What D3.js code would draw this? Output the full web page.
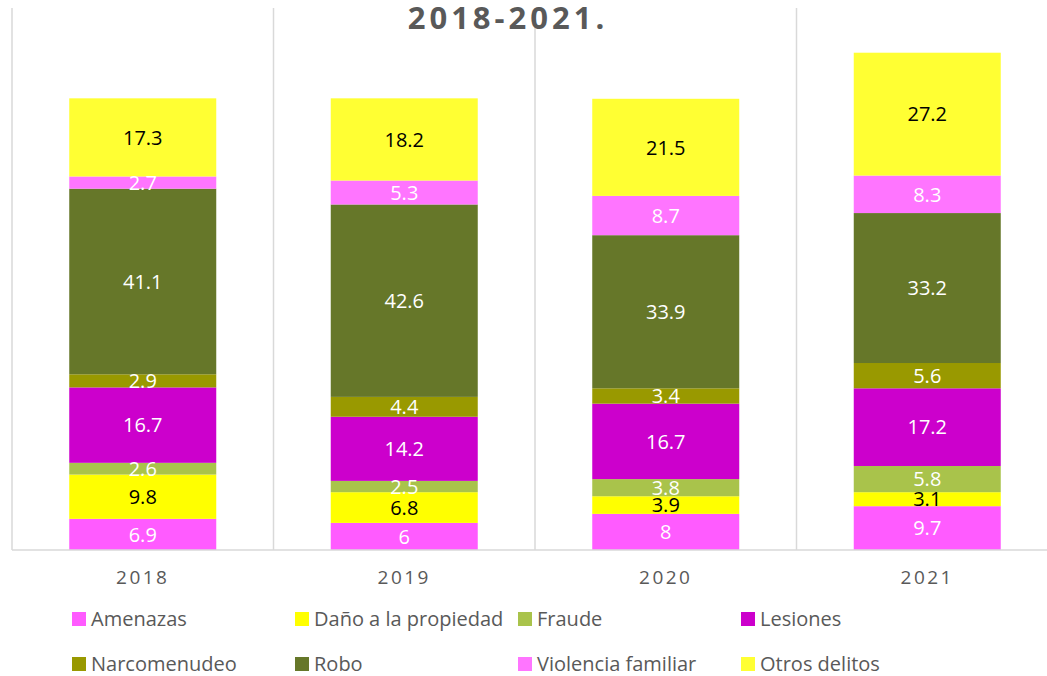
<!DOCTYPE html>
<html>
<head>
<meta charset="utf-8">
<script src="https://cdn.jsdelivr.net/npm/d3@7"></script>
<style>
  body { margin: 0; background: #fff; }
  svg { display: block; }
</style>
</head>
<body>
<svg id="chart"></svg>
<script>
// Datos
const years = ["2018", "2019", "2020", "2021"];
const seriesNames = ["Amenazas", "Daño a la propiedad", "Fraude", "Lesiones",
  "Narcomenudeo", "Robo", "Violencia familiar", "Otros delitos"];
const amenazas = [6.9, 6, 8, 9.7];
const danoPropiedad = [9.8, 6.8, 3.9, 3.1];
const fraude = [2.6, 2.5, 3.8, 5.8];
const lesiones = [16.7, 14.2, 16.7, 17.2];
const narcomenudeo = [2.9, 4.4, 3.4, 5.6];
const robo = [41.1, 42.6, 33.9, 33.2];
const violenciaFamiliar = [2.7, 5.3, 8.7, 8.3];
const otrosDelitos = [17.3, 18.2, 21.5, 27.2];
const seriesValues = [amenazas, danoPropiedad, fraude, lesiones,
  narcomenudeo, robo, violenciaFamiliar, otrosDelitos];

const colors = ["#FF5BFF", "#FFFF00", "#A9C34B", "#CC00CC",
  "#999900", "#667729", "#FF75FF", "#FFFF33"];
const labelColors = ["#fff", "#000", "#fff", "#fff", "#fff", "#fff", "#fff", "#000"];

const width = 1047, height = 676;
const margin = { top: 8, right: -11, bottom: 126, left: 12 };
const innerWidth = width - margin.left - margin.right;
const innerHeight = height - margin.top - margin.bottom;

const svg = d3.select("#chart").attr("width", width).attr("height", height);
const g = svg.append("g").attr("transform", `translate(${margin.left},${margin.top})`);

// tabla para d3.stack
const table = years.map((y, i) => {
  const row = { year: y };
  seriesNames.forEach((s, k) => row[s] = seriesValues[k][i]);
  return row;
});
const stacked = d3.stack().keys(seriesNames)(table);

const x = d3.scaleBand().domain(years).range([0, innerWidth]).paddingInner(0).paddingOuter(0);
const barW = 147;
const y = d3.scaleLinear().domain([0, 120]).range([innerHeight, 0]);

// lineas verticales entre categorias
g.selectAll("line.grid")
  .data(years.slice(1).concat(["end"]))
  .enter().append("line")
  .attr("class", "grid")
  .attr("x1", (d, i) => x.step() * (i + 1))
  .attr("x2", (d, i) => x.step() * (i + 1))
  .attr("y1", 0).attr("y2", innerHeight)
  .attr("stroke", "#D9D9D9").attr("stroke-width", 1.5);
g.append("line")
  .attr("x1", 0).attr("x2", 0).attr("y1", 0).attr("y2", innerHeight)
  .attr("stroke", "#D9D9D9").attr("stroke-width", 1.5);

// titulo (detras de las lineas no importa, va encima)
svg.append("text")
  .attr("x", 508).attr("y", 29)
  .attr("text-anchor", "middle")
  .attr("fill", "#595959")
  .style("font-family", "'Open Sans', sans-serif")
  .style("font-weight", "bold")
  .style("font-size", "31px")
  .style("letter-spacing", "4px")
  .text("2018-2021.");

// barras
const layers = g.selectAll("g.layer")
  .data(stacked)
  .enter().append("g")
  .attr("class", "layer")
  .attr("fill", (d, i) => colors[i]);

layers.selectAll("rect")
  .data(d => d)
  .enter().append("rect")
  .attr("x", d => x(d.data.year) + (x.bandwidth() - barW) / 2)
  .attr("width", barW)
  .attr("y", d => y(d[1]))
  .attr("height", d => y(d[0]) - y(d[1]));

// etiquetas
stacked.forEach((layer, k) => {
  g.selectAll(null)
    .data(layer)
    .enter().append("text")
    .attr("x", d => x(d.data.year) + x.bandwidth() / 2)
    .attr("y", d => (y(d[0]) + y(d[1])) / 2)
    .attr("dy", "0.36em")
    .attr("text-anchor", "middle")
    .attr("fill", labelColors[k])
    .style("font-family", "'Open Sans', sans-serif")
    .style("font-size", "20px")
    .text(d => d.data[layer.key]);
});

// eje x
g.append("line")
  .attr("x1", 0).attr("x2", innerWidth)
  .attr("y1", innerHeight).attr("y2", innerHeight)
  .attr("stroke", "#D9D9D9").attr("stroke-width", 1.5);

const xAxis = g.append("g")
  .attr("transform", `translate(0,${innerHeight})`)
  .call(d3.axisBottom(x).tickSize(0).tickPadding(21));
xAxis.select(".domain").remove();
xAxis.selectAll("text")
  .attr("fill", "#595959")
  .style("font-family", "'Open Sans', sans-serif")
  .style("font-size", "19px")
  .style("letter-spacing", "2.5px");

// leyenda
const legend = svg.append("g");
seriesNames.forEach((s, i) => {
  const col = i % 4, row = Math.floor(i / 4);
  const lx = 72 + col * 223, ly = 612 + row * 45;
  legend.append("rect")
    .attr("x", lx).attr("y", ly).attr("width", 14).attr("height", 14)
    .attr("fill", colors[i]);
  legend.append("text")
    .attr("x", lx + 19).attr("y", ly + 7)
    .attr("dy", "0.36em")
    .attr("fill", "#595959")
    .style("font-family", "'Open Sans', sans-serif")
    .style("font-size", "20px")
    .text(s);
});
</script>
</body>
</html>
